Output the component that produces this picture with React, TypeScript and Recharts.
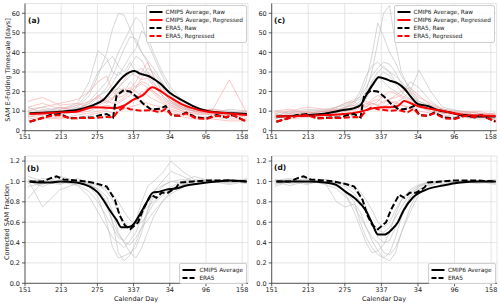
import React from 'react';
import { LineChart, Line, XAxis, YAxis, CartesianGrid } from 'recharts';

// ---------- axes ----------
const xTicks = [0, 62, 124, 186, 248, 310, 372];
const xTickLabels = ['151', '213', '275', '337', '34', '96', '158'];
const topTicks = [0, 10, 20, 30, 40, 50, 60];
const bottomTicks = [0, 0.2, 0.4, 0.6, 0.8, 1.0, 1.2];

// ---------- ensemble members (common day grid) ----------
const memberDays = [5, 30, 60, 90, 110, 125, 140, 150, 160, 170, 180, 190, 200, 210, 220, 235, 250, 270, 290, 320, 350, 380];

const cmip5RawMembers = [
  [9, 10, 9, 12, 18, 28, 40, 52, 60, 59, 52, 45, 40, 35, 28, 20, 15, 11, 10, 9, 9, 8],
  [8, 9, 10, 11, 15, 20, 25, 32, 40, 46, 52, 58, 55, 45, 38, 28, 20, 14, 11, 10, 9, 9],
  [10, 8, 11, 14, 25, 41, 37, 30, 28, 33, 38, 42, 51, 48, 40, 30, 22, 15, 12, 10, 9, 8],
  [7, 9, 8, 10, 13, 17, 22, 28, 35, 42, 48, 47, 40, 36, 32, 25, 18, 13, 10, 9, 10, 8],
  [11, 12, 10, 11, 14, 18, 20, 24, 30, 28, 33, 38, 36, 30, 27, 22, 16, 12, 11, 10, 8, 9],
  [9, 10, 12, 10, 12, 15, 17, 20, 22, 25, 28, 30, 32, 28, 24, 20, 15, 12, 10, 11, 10, 9],
  [12, 9, 10, 13, 20, 30, 35, 38, 33, 30, 35, 30, 28, 32, 30, 24, 17, 13, 11, 9, 11, 10],
  [8, 11, 9, 12, 11, 14, 18, 16, 22, 20, 25, 22, 27, 30, 25, 18, 14, 11, 12, 10, 9, 8],
];
const cmip5RegMembers = [
  [8, 10, 9, 11, 14, 18, 15, 14, 15, 17, 20, 23, 25, 24, 20, 16, 13, 10, 9, 8, 9, 8],
  [10, 12, 14, 16, 20, 25, 28, 20, 17, 18, 21, 25, 30, 35, 28, 20, 15, 12, 10, 9, 8, 9],
  [7, 8, 10, 9, 10, 12, 13, 12, 14, 16, 18, 22, 24, 22, 19, 15, 12, 10, 9, 10, 26, 9],
  [12, 14, 11, 13, 15, 17, 14, 16, 20, 22, 19, 17, 20, 18, 16, 14, 11, 9, 8, 9, 7, 8],
  [6, 7, 6, 8, 9, 10, 11, 12, 11, 13, 15, 16, 15, 14, 13, 12, 10, 8, 7, 7, 6, 6],
  [9, 8, 12, 10, 11, 13, 15, 17, 18, 20, 22, 20, 18, 22, 20, 17, 13, 11, 10, 8, 8, 7],
  [15, 17, 13, 14, 12, 14, 16, 19, 22, 26, 30, 28, 26, 27, 23, 18, 14, 12, 10, 11, 9, 10],
  [5, 6, 7, 6, 8, 9, 10, 9, 10, 11, 12, 13, 14, 12, 11, 10, 9, 7, 6, 6, 5, 5],
];
const cmip6RawMembers = [
  [7, 8, 9, 10, 11, 12, 13, 15, 20, 30, 45, 60, 64, 45, 30, 20, 14, 11, 9, 8, 7, 7],
  [8, 9, 8, 9, 10, 12, 14, 18, 25, 38, 55, 48, 40, 35, 28, 22, 15, 12, 10, 9, 8, 8],
  [9, 7, 10, 11, 12, 13, 15, 20, 28, 33, 35, 32, 30, 28, 25, 20, 31, 20, 12, 10, 9, 7],
  [6, 8, 7, 9, 9, 11, 12, 14, 18, 25, 30, 33, 30, 25, 22, 18, 14, 12, 10, 8, 7, 6],
  [10, 9, 11, 10, 12, 14, 16, 17, 22, 28, 32, 35, 34, 30, 24, 19, 15, 13, 11, 9, 8, 9],
  [7, 10, 9, 8, 11, 10, 12, 13, 16, 22, 27, 30, 28, 24, 20, 16, 13, 11, 9, 9, 8, 7],
  [8, 7, 8, 10, 9, 12, 15, 16, 19, 24, 28, 25, 22, 20, 18, 25, 22, 15, 11, 10, 9, 8],
];
const cmip6RegMembers = [
  [7, 8, 9, 10, 11, 10, 12, 13, 12, 14, 13, 15, 16, 17, 18, 16, 14, 12, 10, 9, 8, 7],
  [6, 9, 10, 8, 9, 11, 10, 12, 14, 13, 15, 18, 20, 19, 17, 15, 13, 11, 9, 8, 7, 6],
  [9, 10, 12, 11, 10, 12, 13, 11, 12, 15, 16, 14, 16, 18, 20, 22, 18, 13, 10, 9, 10, 8],
  [5, 6, 7, 8, 7, 9, 8, 10, 11, 12, 11, 13, 12, 14, 13, 12, 10, 9, 8, 7, 6, 6],
  [8, 7, 8, 9, 12, 14, 15, 12, 13, 16, 18, 17, 15, 14, 16, 20, 17, 14, 11, 9, 8, 9],
  [10, 11, 9, 10, 8, 10, 11, 13, 15, 14, 13, 12, 14, 15, 13, 11, 12, 10, 9, 10, 9, 8],
];
const cmip5FracMembers = [
  [0.83, 1.0, 0.98, 1.0, 0.95, 0.85, 0.6, 0.35, 0.25, 0.27, 0.3, 0.35, 0.5, 0.7, 0.85, 0.95, 1.0, 1.02, 1.0, 1.01, 1.0, 0.98],
  [1.02, 0.75, 0.92, 0.98, 0.97, 0.93, 0.85, 0.7, 0.5, 0.4, 0.3, 0.25, 0.35, 0.5, 0.65, 0.8, 0.9, 0.97, 1.0, 1.0, 0.99, 1.0],
  [0.98, 1.03, 1.0, 0.97, 0.9, 0.8, 0.65, 0.55, 0.45, 0.42, 0.5, 0.6, 0.7, 0.75, 0.8, 0.88, 0.95, 1.0, 1.05, 1.0, 1.0, 1.02],
  [1.0, 0.95, 1.02, 1.0, 1.0, 0.97, 0.9, 0.82, 0.7, 0.6, 0.55, 0.62, 0.8, 0.95, 1.0, 1.08, 1.2, 1.1, 1.02, 1.0, 1.01, 1.0],
  [1.05, 1.0, 0.97, 1.03, 0.98, 0.9, 0.75, 0.6, 0.48, 0.4, 0.38, 0.45, 0.55, 0.62, 0.7, 0.8, 0.88, 0.94, 0.98, 1.0, 0.97, 1.0],
  [0.95, 0.98, 1.0, 0.96, 0.85, 0.7, 0.55, 0.45, 0.4, 0.35, 0.42, 0.5, 0.65, 0.82, 0.9, 0.96, 1.0, 0.98, 1.0, 1.01, 1.02, 0.99],
  [1.0, 1.01, 0.99, 1.0, 0.98, 0.96, 0.93, 0.88, 0.8, 0.7, 0.62, 0.58, 0.6, 0.68, 0.78, 0.86, 0.93, 0.97, 1.0, 0.99, 1.0, 1.0],
  [1.02, 0.97, 1.05, 1.0, 0.97, 0.92, 0.8, 0.6, 0.3, 0.22, 0.28, 0.4, 0.55, 0.72, 0.9, 1.0, 1.1, 1.05, 1.0, 1.02, 0.98, 1.03],
];
const cmip6FracMembers = [
  [1.0, 1.02, 0.98, 1.0, 0.95, 0.9, 0.8, 0.6, 0.45, 0.35, 0.28, 0.25, 0.3, 0.45, 0.65, 0.85, 0.95, 1.0, 1.0, 1.01, 1.0, 0.99],
  [0.97, 1.0, 1.03, 0.99, 0.8, 0.75, 0.78, 0.7, 0.55, 0.42, 0.32, 0.25, 0.22, 0.3, 0.5, 0.75, 0.92, 0.98, 1.0, 1.0, 0.98, 1.0],
  [1.02, 0.98, 1.0, 1.0, 0.98, 0.95, 0.88, 0.8, 0.7, 0.6, 0.52, 0.5, 0.55, 0.65, 0.75, 0.88, 0.95, 0.99, 1.01, 1.0, 1.0, 1.0],
  [0.95, 1.0, 0.97, 1.02, 1.0, 0.97, 0.92, 0.85, 0.75, 0.6, 0.45, 0.4, 0.42, 0.55, 0.7, 0.85, 0.93, 0.97, 1.0, 0.99, 1.0, 1.02],
  [1.0, 0.96, 1.0, 0.98, 0.97, 0.88, 0.7, 0.55, 0.4, 0.3, 0.32, 0.38, 0.5, 0.68, 0.82, 0.92, 0.97, 1.0, 0.98, 1.0, 1.01, 0.98],
  [1.01, 1.03, 0.99, 1.0, 0.99, 0.98, 0.95, 0.9, 0.82, 0.72, 0.6, 0.55, 0.6, 0.72, 0.82, 0.9, 0.96, 1.0, 1.0, 1.0, 0.99, 1.0],
  [0.98, 1.0, 1.02, 0.97, 0.93, 0.85, 0.75, 0.65, 0.55, 0.45, 0.4, 0.3, 0.28, 0.35, 0.5, 0.7, 0.88, 0.96, 1.0, 0.98, 1.0, 0.97],
];

// ---------- averages and ERA5 ----------
const cmip5RawDays = [8, 60, 88, 117, 134, 151, 168, 188, 196, 216, 231, 248, 268, 288, 305, 328, 356, 380];
const cmip5RawVals = [8.9, 9.7, 10.6, 13.1, 15.7, 21.7, 27.6, 30.5, 29.3, 27.3, 24.2, 19.4, 15.7, 12.6, 10.6, 9.4, 8.9, 8.5];
const cmip5RegDays = [8, 60, 88, 117, 134, 154, 168, 185, 202, 218, 231, 248, 268, 288, 311, 345, 380];
const cmip5RegVals = [8.5, 9.3, 9.7, 12.0, 11.8, 11.5, 12.6, 15.7, 18.2, 22.2, 20.5, 17.1, 13.6, 11.4, 9.8, 8.9, 8.0];
const cmip6RawDays = [8, 65, 94, 122, 139, 151, 159, 171, 182, 191, 202, 214, 225, 236, 248, 265, 282, 305, 328, 362, 380];
const cmip6RawVals = [7.2, 8, 8.9, 10.6, 11.4, 13.1, 17.4, 23.3, 27.3, 26.7, 25.4, 24.2, 21.6, 17.4, 13.6, 12.6, 10.6, 9.2, 7.5, 7.2, 7.2];
const cmip6RegDays = [8, 65, 94, 122, 151, 171, 191, 202, 214, 225, 236, 248, 265, 282, 305, 328, 362, 380];
const cmip6RegVals = [7.2, 7.7, 8, 8.5, 9.7, 11.4, 12, 12, 12.6, 15.2, 14, 12.6, 11.4, 10.6, 9.2, 8, 7.7, 7.5];
const era5RawDays = [8, 24, 43, 60, 77, 100, 117, 128, 140, 151, 154, 157, 168, 180, 191, 202, 216, 231, 241, 251, 265, 276, 293, 311, 328, 345, 356, 380];
const era5RawVals = [4.6, 6, 8, 8.5, 6.3, 6.8, 6.8, 7.9, 8.5, 6.8, 13, 18, 20.5, 20, 17.4, 13.9, 10.8, 11.2, 12.6, 7.9, 7.6, 9.3, 6.8, 6.3, 8, 6.8, 8, 4.6];
const era5RegDays = [8, 24, 43, 60, 77, 100, 117, 140, 151, 160, 170, 180, 200, 216, 231, 241, 251, 265, 276, 293, 311, 328, 345, 356, 380];
const era5RegVals = [4.6, 6, 7.5, 8, 6.3, 6.5, 6.5, 7, 6.8, 10.2, 12, 11, 10.2, 10.5, 9.4, 11.2, 7.9, 7.6, 8.9, 6.3, 6, 7.6, 7, 8, 4.6];

const cmip5FracDays = [8, 24, 43, 60, 88, 102, 114, 125, 134, 145, 157, 165, 174, 182, 191, 199, 208, 219, 231, 242, 259, 276, 299, 328, 350, 380];
const cmip5FracVals = [1.0, 0.99, 0.99, 1.0, 0.99, 0.97, 0.94, 0.89, 0.82, 0.72, 0.62, 0.55, 0.55, 0.56, 0.62, 0.7, 0.79, 0.89, 0.9, 0.92, 0.93, 0.96, 0.98, 1.0, 1.01, 1.0];
const cmip6FracDays = [8, 65, 90, 108, 125, 142, 159, 171, 180, 192, 204, 214, 224, 239, 262, 290, 319, 351, 380];
const cmip6FracVals = [1.0, 1.0, 0.99, 0.97, 0.9, 0.83, 0.72, 0.58, 0.48, 0.48, 0.53, 0.6, 0.72, 0.84, 0.92, 0.96, 0.99, 1.0, 1.0];
const era5FracDays = [8, 31, 43, 54, 66, 88, 105, 122, 140, 154, 162, 171, 180, 188, 194, 202, 216, 225, 234, 245, 259, 265, 288, 311, 345, 380];
const era5FracVals = [1.0, 1.0, 1.03, 1.05, 1.02, 1.01, 1.0, 0.98, 0.95, 0.82, 0.67, 0.57, 0.53, 0.57, 0.6, 0.72, 0.87, 0.84, 0.89, 0.89, 0.94, 0.99, 1.0, 1.01, 1.01, 1.0];

// ---------- helpers ----------
type Pt = { x: number; y: number };
type Series = { data: Pt[]; color: string; width: number; dash?: string; curve?: 'linear' | 'monotone'; opacity?: number };
const pts = (days: number[], vals: number[]): Pt[] => days.map((d, i) => ({ x: d, y: vals[i] }));

const GREY = '#bcbcbc';
const PINK = '#f6a0a0';
const RED = '#ff0000';
const FONT = '"DejaVu Sans", sans-serif';

const members = (rows: number[][], color: string): Series[] =>
  rows.map((r) => ({ data: pts(memberDays, r), color, width: 0.7, curve: 'linear', opacity: 0.85 }));

type LegendItem = { label: string; color: string; dash?: string };

function Legend({ right, top, items }: { right: number; top: number; items: LegendItem[] }) {
  return (
    <div
      style={{
        position: 'absolute', right, top, boxSizing: 'border-box',
        background: 'rgba(255,255,255,0.85)', border: '0.8px solid #cfcfcf', borderRadius: 2,
        padding: '1.5px 3px 1.5px 2px', fontFamily: FONT, fontSize: 5.8, color: '#222',
      }}
    >
      {items.map((it, i) => (
        <div key={i} style={{ display: 'flex', alignItems: 'center', height: 8.2, whiteSpace: 'nowrap' }}>
          <svg width={14} height={6} style={{ marginRight: 3, flex: 'none' }}>
            <line x1={0.5} y1={3} x2={13.5} y2={3} stroke={it.color} strokeWidth={2} strokeDasharray={it.dash} />
          </svg>
          <span>{it.label}</span>
        </div>
      ))}
    </div>
  );
}

function Panel(props: {
  left: number; top: number; width: number; height: number;
  margin: { top: number; right: number; bottom: number; left: number };
  yWidth: number; yDomain: [number, number]; yTicks: number[]; yFmt: (v: number) => string;
  series: Series[];
}) {
  const { left, top, width, height, margin, yWidth, yDomain, yTicks, yFmt, series } = props;
  const tickStyle = { fontSize: 6.5, fill: '#222', fontFamily: FONT };
  return (
    <div style={{ position: 'absolute', left, top }}>
      <LineChart width={width} height={height} margin={margin}>
        <CartesianGrid stroke="#dedede" strokeWidth={0.8} />
        <XAxis
          type="number" dataKey="x" domain={[0, 382]} ticks={xTicks} allowDataOverflow
          tickFormatter={(v: number) => xTickLabels[xTicks.indexOf(v)] ?? ''}
          tick={tickStyle} tickSize={3} tickMargin={1} height={14} interval={0}
          axisLine={{ stroke: '#333', strokeWidth: 0.8 }} tickLine={{ stroke: '#333', strokeWidth: 0.8 }}
        />
        <XAxis
          xAxisId="top" orientation="top" type="number" dataKey="x" domain={[0, 382]}
          tick={false} tickLine={false} height={0} axisLine={{ stroke: '#333', strokeWidth: 0.8 }}
        />
        <YAxis
          type="number" domain={yDomain} ticks={yTicks} allowDataOverflow interval={0}
          tickFormatter={yFmt} tick={tickStyle} tickSize={3} width={yWidth}
          axisLine={{ stroke: '#333', strokeWidth: 0.8 }} tickLine={{ stroke: '#333', strokeWidth: 0.8 }}
        />
        <YAxis
          yAxisId="right" orientation="right" type="number" domain={yDomain}
          tick={false} tickLine={false} width={0} axisLine={{ stroke: '#333', strokeWidth: 0.8 }}
        />
        {series.map((s, i) => (
          <Line
            key={i} data={s.data} dataKey="y" type={s.curve ?? 'linear'} stroke={s.color}
            strokeWidth={s.width} strokeDasharray={s.dash} strokeOpacity={s.opacity ?? 1}
            dot={false} activeDot={false} isAnimationActive={false} legendType="none"
          />
        ))}
      </LineChart>
    </div>
  );
}

const DASH = '6 2.6';

const seriesA: Series[] = [
  ...members(cmip5RawMembers, GREY),
  ...members(cmip5RegMembers, PINK),
  { data: pts(cmip5RawDays, cmip5RawVals), color: '#000', width: 2, curve: 'monotone' },
  { data: pts(cmip5RegDays, cmip5RegVals), color: RED, width: 2, curve: 'monotone' },
  { data: pts(era5RawDays, era5RawVals), color: '#000', width: 2, dash: DASH },
  { data: pts(era5RegDays, era5RegVals), color: RED, width: 2, dash: DASH },
];
const seriesC: Series[] = [
  ...members(cmip6RawMembers, GREY),
  ...members(cmip6RegMembers, PINK),
  { data: pts(cmip6RawDays, cmip6RawVals), color: '#000', width: 2, curve: 'monotone' },
  { data: pts(cmip6RegDays, cmip6RegVals), color: RED, width: 2, curve: 'monotone' },
  { data: pts(era5RawDays, era5RawVals), color: '#000', width: 2, dash: DASH },
  { data: pts(era5RegDays, era5RegVals), color: RED, width: 2, dash: DASH },
];
const seriesB: Series[] = [
  ...members(cmip5FracMembers, GREY),
  { data: pts(cmip5FracDays, cmip5FracVals), color: '#000', width: 2, curve: 'monotone' },
  { data: pts(era5FracDays, era5FracVals), color: '#000', width: 2, dash: DASH },
];
const seriesD: Series[] = [
  ...members(cmip6FracMembers, GREY),
  { data: pts(cmip6FracDays, cmip6FracVals), color: '#000', width: 2, curve: 'monotone' },
  { data: pts(era5FracDays, era5FracVals), color: '#000', width: 2, dash: DASH },
];

const legendTop = (m: string): LegendItem[] => [
  { label: `${m} Average, Raw`, color: '#000' },
  { label: `${m} Average, Regressed`, color: RED },
  { label: 'ERA5, Raw', color: '#000', dash: '5 2' },
  { label: 'ERA5, Regressed', color: RED, dash: '5 2' },
];
const legendBottom = (m: string): LegendItem[] => [
  { label: `${m} Average`, color: '#000' },
  { label: 'ERA5', color: '#000', dash: '5 2' },
];

const panelLabel = (text: string, left: number, top: number) => (
  <div style={{ position: 'absolute', left, top, fontFamily: FONT, fontWeight: 'bold', fontSize: 7.5, color: '#111' }}>{text}</div>
);

const rotLabel = (text: string, cx: number, cy: number) => (
  <div
    style={{
      position: 'absolute', left: cx, top: cy, transform: 'translate(-50%, -50%) rotate(-90deg)',
      fontFamily: FONT, fontSize: 6.5, color: '#222', whiteSpace: 'nowrap',
    }}
  >
    {text}
  </div>
);

const xLabel = (text: string, cx: number, cy: number) => (
  <div style={{ position: 'absolute', left: cx, top: cy, transform: 'translate(-50%, -50%)', fontFamily: FONT, fontSize: 6.5, color: '#222', whiteSpace: 'nowrap' }}>
    {text}
  </div>
);

const f0 = (v: number) => String(v);
const f1 = (v: number) => v.toFixed(1);

export default function App() {
  return (
    <div style={{ position: 'absolute', left: 0, top: 0, width: 500, height: 304, background: '#fff', overflow: 'hidden' }}>
      <Panel left={0} top={0} width={250} height={145} margin={{ top: 3.5, right: 2, bottom: 0.3, left: 0 }}
        yWidth={25} yDomain={[0, 65]} yTicks={topTicks} yFmt={f0} series={seriesA} />
      <Panel left={250} top={0} width={250} height={145} margin={{ top: 3.5, right: 3.3, bottom: 0.3, left: 0 }}
        yWidth={21.7} yDomain={[0, 65]} yTicks={topTicks} yFmt={f0} series={seriesC} />
      <Panel left={0} top={150} width={250} height={148} margin={{ top: 6, right: 2, bottom: 0.7, left: 0 }}
        yWidth={25} yDomain={[0, 1.25]} yTicks={bottomTicks} yFmt={f1} series={seriesB} />
      <Panel left={250} top={150} width={250} height={148} margin={{ top: 6, right: 3, bottom: 0.7, left: 0 }}
        yWidth={21.7} yDomain={[0, 1.25]} yTicks={bottomTicks} yFmt={f1} series={seriesD} />

      <Legend right={253} top={5} items={legendTop('CMIP5')} />
      <Legend right={5} top={5} items={legendTop('CMIP6')} />
      <Legend right={253} top={263} items={legendBottom('CMIP5')} />
      <Legend right={4.5} top={263} items={legendBottom('CMIP6')} />

      {panelLabel('(a)', 28, 16)}
      {panelLabel('(c)', 274, 15.5)}
      {panelLabel('(b)', 27, 164)}
      {panelLabel('(d)', 274, 163)}

      {rotLabel('SAM E-Folding Timescale [days]', 8, 70)}
      {rotLabel('Corrected SAM Fraction', 7, 222)}
      {xLabel('Calendar Day', 136, 298.5)}
      {xLabel('Calendar Day', 384, 298.5)}
    </div>
  );
}
